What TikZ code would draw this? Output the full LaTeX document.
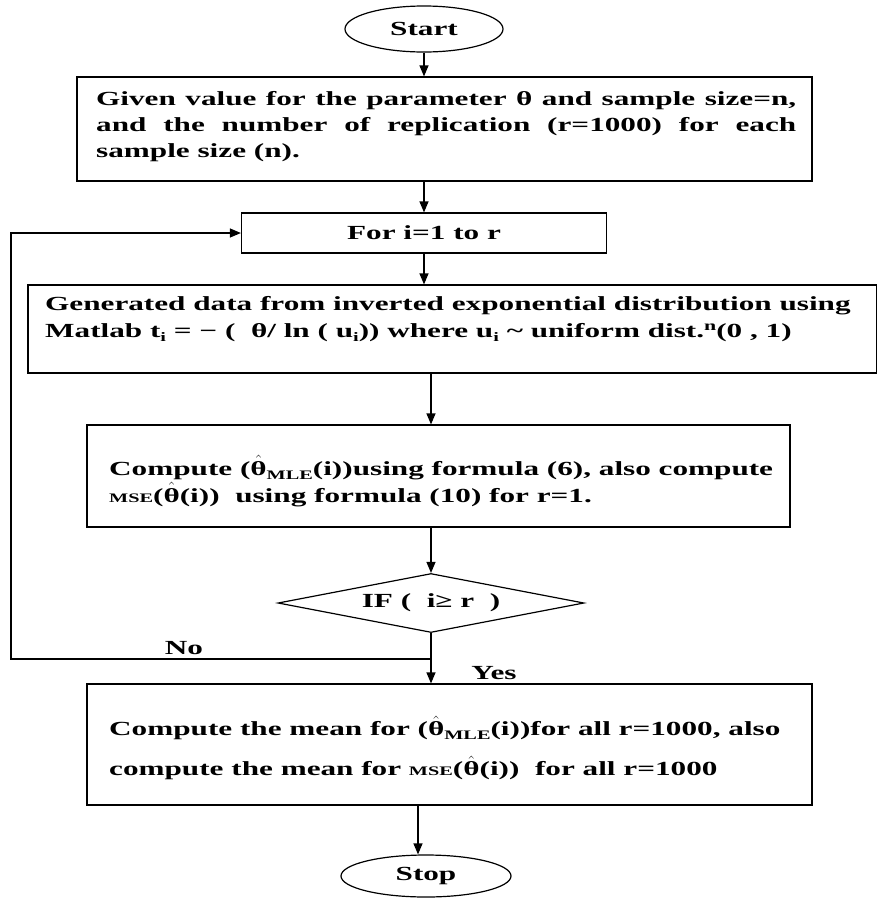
\documentclass[tikz,border=0pt]{standalone}
\usepackage{fontspec}
\setmainfont{Liberation Serif}[FakeStretch=1.56]
\usetikzlibrary{shapes.geometric,arrows.meta,calc}
\newcommand{\mysub}[1]{\raisebox{-4pt}{\fontsize{13}{13}\selectfont #1}}
\newcommand{\mysup}[1]{\raisebox{7pt}{\fontsize{14}{14}\selectfont #1}}
\newcommand{\smallcaps}[1]{{\fontsize{13}{13}\selectfont #1}}
\newcommand{\thetahat}{$\hat{\mbox{θ}}$}
\begin{document}
\begin{tikzpicture}[x=1pt,y=-1pt,
  every node/.style={font=\bfseries\fontsize{20}{27}\selectfont},
  box/.style={draw,line width=1.2pt,rectangle,inner sep=0pt},
  txt/.style={anchor=west,align=left,inner sep=0pt},
  term/.style={draw,ellipse,line width=1.2pt,inner sep=0pt},
  arr/.style={line width=1.2pt,-{Triangle[length=11pt,width=9pt]}},
  ln/.style={line width=1.2pt}]
\useasboundingbox (0,0) rectangle (877,898);

\node[term,minimum width=158pt,minimum height=46pt] (start) at (424,29) {Start};

\node[box,minimum width=735pt,minimum height=104pt] (given) at (444.5,129) {};
\node[txt,font=\bfseries\fontsize{20}{26}\selectfont] (giventxt) at (96,127)
  {\hbox to 700pt{Given value for the parameter θ\ and sample size=n,}\\
   \hbox to 700pt{and the number of replication (r=1000) for each}\\
   sample size (n).};

\node[box,minimum width=365pt,minimum height=40pt] (forbox) at (424,233) {For i=1 to r};

\node[box,minimum width=849pt,minimum height=88pt] (gen) at (452.5,329) {};
\node[txt] (gentxt) at (45,319)
  {Generated data from inverted exponential distribution using\\
   Matlab t\mysub{i} = − (\ \ θ/ ln ( u\mysub{i})) where u\mysub{i} \textasciitilde{} uniform dist.\mysup{n}(0 , 1)};

\node[box,minimum width=703pt,minimum height=102pt] (comp) at (438.5,476) {};
\node[txt] (comptxt) at (109,481)
  {Compute (\thetahat\mysub{\smallcaps{MLE}}(i))using formula (6), also compute\\
   \smallcaps{MSE}(\thetahat(i))\ \ using formula (10) for r=1.};

\node[draw,diamond,shape aspect=5.2,line width=1.2pt,inner sep=0pt,minimum width=306pt,minimum height=59pt] (ifnode) at (431,603) {IF (\ \ i≥ r\ \ )};

\node[box,minimum width=725pt,minimum height=121pt] (mean) at (449.5,744.5) {};
\node[txt] (meantxt) at (109,748)
  {Compute the mean for (\thetahat\mysub{\smallcaps{MLE}}(i))for all r=1000, also\\[13pt]
   compute the mean for \smallcaps{MSE}(\thetahat(i))\ \ for all r=1000};

\node[term,minimum width=170pt,minimum height=42pt] (stop) at (426,876) {Stop};

\node (no) at (184,648) {No};
\node (yes) at (494,673) {Yes};

\coordinate (junc) at (431,659);
\coordinate (loopx) at (11,0);

\draw[arr] (start.south) -- (start.south |- given.north);
\draw[arr] (given.south -| forbox.north) -- (forbox.north);
\draw[arr] (forbox.south) -- (forbox.south |- gen.north);
\draw[arr] (gen.south -| ifnode.north) -- (comp.north -| ifnode.north);
\draw[arr] (comp.south -| ifnode.north) -- (ifnode.north);
\draw[arr] (ifnode.south) -- (ifnode.south |- mean.north);
\draw[arr] (junc) -- (loopx |- junc) |- (forbox.west);
\draw[arr] ([xshift=-8pt]stop.north |- mean.south) -- ([xshift=-8pt]stop.north);
\end{tikzpicture}
\end{document}
